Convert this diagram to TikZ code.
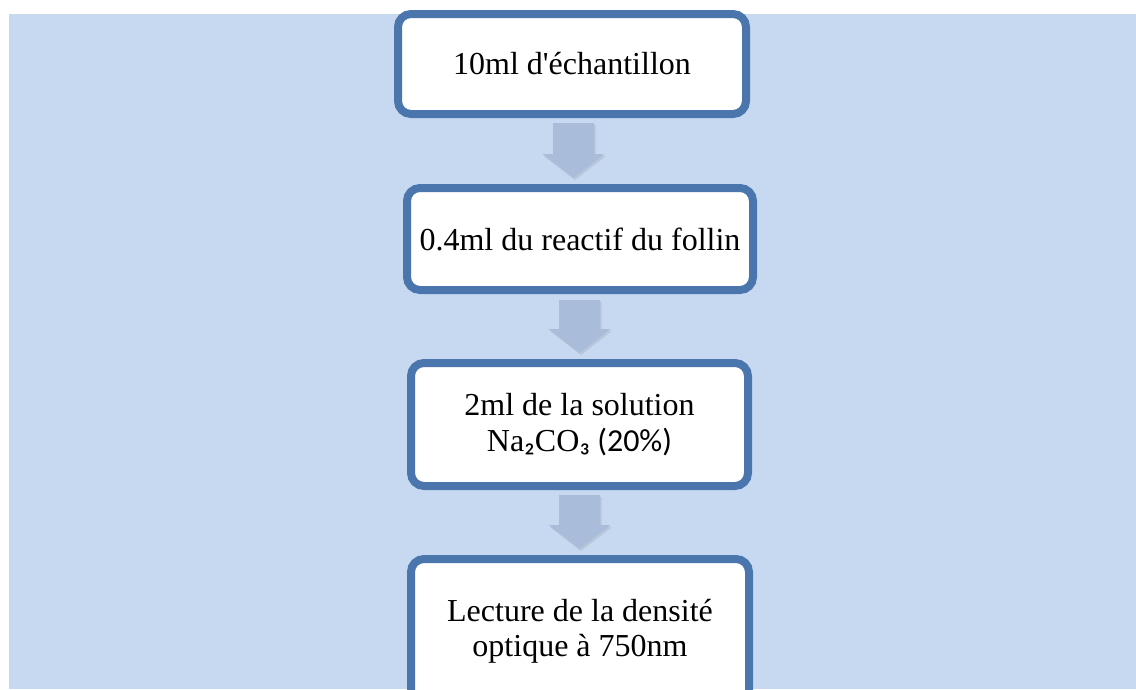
\documentclass[tikz,border=0pt]{standalone}
\usepackage{fontspec}
\setmainfont{Liberation Serif}[Ligatures=TeXOff]
\newfontfamily\subfont{Carlito}
\usetikzlibrary{shadows,calc}
\definecolor{bgblue}{HTML}{C6D9F0}
\definecolor{borderblue}{HTML}{4A76AD}
\definecolor{arrowblue}{HTML}{A9BDDA}
\tikzset{
  stepbox/.style={draw=borderblue, line width=8pt, fill=white, rounded corners=13pt,
    align=center, inner sep=0pt, font=\fontsize{32}{35}\selectfont,
    drop shadow={opacity=0.3, shadow xshift=2pt, shadow yshift=-3pt}},
  blockarr/.style={fill=arrowblue, draw=none,
    drop shadow={opacity=0.2, shadow xshift=1.5pt, shadow yshift=-2pt}}
}
\newcommand{\blockarrow}[2]{%
  \fill[blockarr] ($(#1)+(-20.5,0)$) -- ($(#1)+(20.5,0)$) -- ($(#2)+(20.5,-24)$) --
    ($(#2)+(31,-24)$) -- (#2) -- ($(#2)+(-31,-24)$) -- ($(#2)+(-20.5,-24)$) -- cycle;}
\begin{document}
\begin{tikzpicture}[x=1pt,y=-1pt]
\useasboundingbox (0,0) rectangle (1136,689);
\clip (0,0) rectangle (1136,689);
\fill[bgblue] (9,14) rectangle (1136,689);

\node[stepbox, minimum width=348, minimum height=100] (b1) at (572,64) {10ml d'échantillon};
\node[stepbox, minimum width=346, minimum height=102] (b2) at (580,239) {0.4ml du reactif du follin};
\node[stepbox, minimum width=337, minimum height=123] (b3) at (579.5,424.5)
  {2ml de la solution\\[1pt] Na{\subfont ₂}CO{\subfont ₃ (20\%)}};
\node[stepbox, minimum width=338, minimum height=160, text depth=0pt] (b4) at (580,639)
  {\raisebox{0pt}[0pt][0pt]{}\\[-62pt]Lecture de la densité\\ optique à 750nm};

\coordinate (a1s) at (573.5,123);
\coordinate (a1e) at (573.5,178);
\coordinate (a2s) at (579.5,300);
\coordinate (a2e) at (579.5,353);
\coordinate (a3s) at (579.5,495);
\coordinate (a3e) at (579.5,549);
\blockarrow{a1s}{a1e}
\blockarrow{a2s}{a2e}
\blockarrow{a3s}{a3e}
\end{tikzpicture}
\end{document}
